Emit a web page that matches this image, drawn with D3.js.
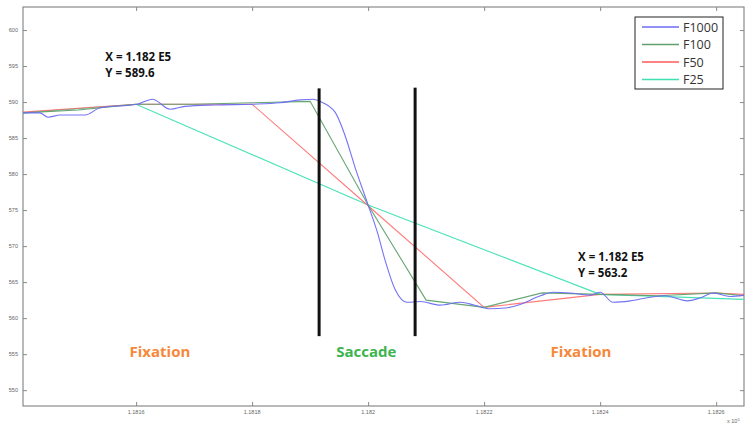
<!DOCTYPE html>
<html>
<head>
<meta charset="utf-8">
<script src="https://cdn.jsdelivr.net/npm/d3@7"></script>
<style>
  body { margin: 0; background: #fff; }
  svg { display: block; }
</style>
</head>
<body>
<svg id="chart" width="746" height="430"></svg>
<script>
// time in units of 1e-5 (axis shows x 10^5)
var t1000 = [118140.5,118143.4,118144.8,118146.9,118149.5,118151.2,118153.8,118160.2,118162.8,118165.9,118168.4,118173.6,118180.2,118184.8,118188.3,118190.5,118191.7,118194.3,118196.0,118197.8,118200.0,118201.6,118202.9,118204.7,118206.7,118209.0,118212.4,118215.9,118218.4,118221.0,118223.6,118226.2,118229.7,118231.9,118234.8,118238.3,118240.0,118242.2,118245.2,118248.6,118251.2,118255.0,118257.2,118259.5,118262.4,118264.8]
var f1000 = [588.5,588.5,587.9,588.2,588.2,588.2,589.2,589.7,590.4,589.0,589.4,589.6,589.7,589.9,590.3,590.4,590.1,588.6,585.4,580.8,575.7,571.9,568.1,563.9,562.2,562.3,561.8,562.2,561.8,561.3,561.4,561.9,563.1,563.6,563.5,563.2,563.6,562.2,562.4,562.9,563.1,562.4,562.8,563.5,563.0,563.2]

var t100 = [118140.5,118150,118160,118170,118180,118190,118200,118210,118220,118230,118240,118250,118260,118264.8]
var f100 = [588.5,588.9,589.7,589.7,589.9,590.1,575.7,562.5,561.5,563.5,563.3,563.1,563.5,563.1]

var t50 = [118140.5,118160,118180,118200,118220,118240,118260,118264.8]
var f50 = [588.6,589.7,589.7,575.6,561.5,563.3,563.5,563.3]

var t25 = [118140.5,118160,118200,118240,118264.8]
var f25 = [588.5,589.7,575.7,563.3,562.6]

var seriesNames = ["F1000", "F100", "F50", "F25"]
var colors = ["#6b6bf5", "#5fa06c", "#ff5a5a", "#3fe0b4"]

var xTicks = [118160, 118180, 118200, 118220, 118240, 118260]
var yTicks = [550, 555, 560, 565, 570, 575, 580, 585, 590, 595, 600]

// saccade boundaries [time, yTop, yBottom]
var markers = [[118191.55, 591.9, 557.5], [118208.1, 592.0, 557.5]]

var notes = [
  { t: 118154.7, y: 595.7, lines: ["X = 1.182 E5", "Y = 589.6"] },
  { t: 118236.2, y: 567.9, lines: ["X = 1.182 E5", "Y = 563.2"] }
]
var phases = [
  { t: 118164.1, label: "Fixation", color: "#f7883a" },
  { t: 118199.7, label: "Saccade", color: "#3db44f" },
  { t: 118236.7, label: "Fixation", color: "#f7883a" }
]
var phaseY = 554.6

var svg = d3.select("#chart")
var mLeft = 23, mTop = 7, mRight = 744, mBottom = 406

var x = d3.scaleLinear().domain([118140.5, 118264.8]).range([mLeft, mRight])
var y = d3.scaleLinear().domain([603.2, 547.8]).range([mTop, mBottom])

// frame
svg.append("rect")
  .attr("x", mLeft).attr("y", mTop)
  .attr("width", mRight - mLeft).attr("height", mBottom - mTop)
  .style("fill", "#fff").style("stroke", "#8a8a8a").style("stroke-width", 1.2)

// axes with inward ticks
var xb = svg.append("g").attr("transform", "translate(0," + mBottom + ")")
  .call(d3.axisTop(x).tickValues(xTicks).tickSize(4).tickFormat(""))
xb.selectAll("line").style("stroke", "#8a8a8a")
xb.select(".domain").remove()
var xt = svg.append("g").attr("transform", "translate(0," + mTop + ")")
  .call(d3.axisBottom(x).tickValues(xTicks).tickSize(4).tickFormat(""))
xt.selectAll("line").style("stroke", "#8a8a8a")
xt.select(".domain").remove()
var yl = svg.append("g").attr("transform", "translate(" + mLeft + ",0)")
  .call(d3.axisRight(y).tickValues(yTicks).tickSize(4).tickFormat(""))
yl.selectAll("line").style("stroke", "#8a8a8a")
yl.select(".domain").remove()
var yr = svg.append("g").attr("transform", "translate(" + mRight + ",0)")
  .call(d3.axisLeft(y).tickValues(yTicks).tickSize(4).tickFormat(""))
yr.selectAll("line").style("stroke", "#8a8a8a")
yr.select(".domain").remove()

// tick labels
svg.append("g").selectAll("text").data(xTicks).enter().append("text")
  .attr("x", function (d) { return x(d) })
  .attr("y", mBottom + 8)
  .attr("text-anchor", "middle")
  .style("font-family", "Liberation Sans, Arial, sans-serif")
  .style("font-size", "5.5px").style("fill", "#666")
  .text(function (d) { return d3.format(".5~f")(d / 100000) })

svg.append("g").selectAll("text").data(yTicks).enter().append("text")
  .attr("x", mLeft - 5)
  .attr("y", function (d) { return y(d) + 2 })
  .attr("text-anchor", "end")
  .style("font-family", "Liberation Sans, Arial, sans-serif")
  .style("font-size", "5.5px").style("fill", "#666")
  .text(function (d) { return d })

var expo = svg.append("text")
  .attr("x", 727).attr("y", 423)
  .style("font-family", "Liberation Sans, Arial, sans-serif")
  .style("font-size", "5.5px").style("fill", "#666")
expo.append("tspan").text("x 10")
expo.append("tspan").attr("dy", -2).style("font-size", "4px").text("5")

// series
var allSeries = [[t1000, f1000], [t100, f100], [t50, f50], [t25, f25]]
var line = d3.line()
  .x(function (d) { return x(d[0]) })
  .y(function (d) { return y(d[1]) })
  .curve(d3.curveMonotoneX)
var straight = d3.line()
  .x(function (d) { return x(d[0]) })
  .y(function (d) { return y(d[1]) })

// draw back to front: F25, F50, F100, F1000
for (let i = allSeries.length - 1; i >= 0; i--) {
  var pts = allSeries[i][0].map(function (t, k) { return [t, allSeries[i][1][k]] })
  svg.append("path")
    .datum(pts)
    .attr("d", i == 0 ? line : straight)
    .style("fill", "none")
    .style("stroke", colors[i])
    .style("stroke-width", 1.1)
    .style("stroke-opacity", i == 2 ? 0.8 : 0.95)
}

// saccade markers
svg.append("g").selectAll("line").data(markers).enter().append("line")
  .attr("x1", function (d) { return x(d[0]) })
  .attr("x2", function (d) { return x(d[0]) })
  .attr("y1", function (d) { return y(d[1]) })
  .attr("y2", function (d) { return y(d[2]) })
  .style("stroke", "#111").style("stroke-width", 3)

// annotations
notes.forEach(function (n) {
  n.lines.forEach(function (s, k) {
    svg.append("text")
      .attr("x", x(n.t)).attr("y", y(n.y) + k * 16)
      .attr("text-anchor", "start")
      .style("font-family", "Open Sans, Liberation Sans, sans-serif")
      .style("font-weight", "bold")
      .style("font-size", "11.5px").style("fill", "#111")
      .text(s)
  })
})

phases.forEach(function (p) {
  svg.append("text")
    .attr("x", x(p.t)).attr("y", y(phaseY))
    .attr("text-anchor", "middle")
    .style("font-family", "Open Sans, Liberation Sans, sans-serif")
    .style("font-weight", "bold")
    .style("font-size", "15px").style("fill", p.color)
    .text(p.label)
})

// legend
var lg = svg.append("g").attr("transform", "translate(635,17)")
lg.append("rect").attr("width", 88).attr("height", 72)
  .style("fill", "#fff").style("stroke", "#222").style("stroke-width", 1)
seriesNames.forEach(function (nm, i) {
  var yy = 10 + i * 17.5
  lg.append("line").attr("x1", 7).attr("x2", 44).attr("y1", yy).attr("y2", yy)
    .style("stroke", colors[i]).style("stroke-width", 1.3)
  lg.append("text").attr("x", 48).attr("y", yy + 4.5)
    .style("font-family", "Open Sans, Liberation Sans, sans-serif")
    .style("font-size", "12.5px").style("fill", "#333")
    .text(nm)
})
</script>
</body>
</html>
